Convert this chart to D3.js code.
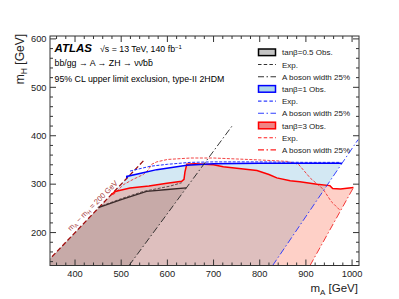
<!DOCTYPE html>
<html>
<head>
<meta charset="utf-8">
<script src="https://d3js.org/d3.v7.min.js"></script>
<style>
  body { margin: 0; background: #fff; }
  svg text { font-family: "Liberation Sans", Arial, sans-serif; }
</style>
</head>
<body>
<div id="graph"></div>
<script>
// ATLAS A -> ZH exclusion plot, type-II 2HDM

// tan(beta)=0.5
const obs05 = [[452, 252], [500, 268], [555, 285], [600, 289], [641, 292.5]];
const exp05 = [[449, 252], [500, 270], [548, 285], [606, 296], [631, 303]];
const width05 = [[517, 132], [740, 420]];

// tan(beta)=1
const obs1 = [[512, 312], [512, 316], [545, 323], [577, 330], [642, 339], [700, 342], [800, 343], [900, 343], [978, 343]];
const exp1 = [[519, 327], [563, 337], [600, 341], [650, 345], [700, 346], [800, 346], [900, 345], [975, 345]];
const width1 = [[828, 132], [1013, 392]];

// tan(beta)=3
const obs3 = [[478, 278], [487, 285], [519, 292], [560, 296], [599, 302], [631, 306], [636, 310], [638, 325],
  [642, 341], [660, 342], [700, 340], [721, 336], [760, 332], [794, 328], [820, 320], [837, 313],
  [866, 307], [887, 305], [924, 300], [952, 297], [958, 291], [975, 290], [1003, 293]];
const exp3 = [[483, 278], [487, 282], [505, 299], [526, 310], [548, 320], [559, 330], [566, 341], [577, 346],
  [600, 351], [650, 354], [700, 354], [750, 352], [800, 350], [860, 347], [884, 341], [910, 312],
  [937, 290], [955, 264], [974, 246]];
const width3 = [[909, 132], [1003, 293]];

// mA - mH = 200 GeV
const diagonal = [[350, 150], [550, 350]];
const cornerLow = [[346, 132], [346, 146]];

const xTicks = [400, 500, 600, 700, 800, 900, 1000];
const yTicks = [200, 300, 400, 500, 600];

const legendLabels = ["tan\u03b2=0.5 Obs.", "Exp.", "A boson width 25%",
  "tan\u03b2=1 Obs.", "Exp.", "A boson width 25%",
  "tan\u03b2=3 Obs.", "Exp.", "A boson width 25%"];

const W = 399, H = 299;
const fLeft = 50, fRight = 359, fTop = 36, fBottom = 265.5;

const x = d3.scaleLinear().domain([345.8, 1015]).range([fLeft, fRight]);
const y = d3.scaleLinear().domain([132, 606]).range([fBottom, fTop]);

const svg = d3.select("#graph").append("svg")
  .attr("width", W).attr("height", H);

svg.append("defs").append("clipPath").attr("id", "frame")
  .append("rect").attr("x", fLeft).attr("y", fTop)
  .attr("width", fRight - fLeft).attr("height", fBottom - fTop);

const line = d3.line().x(d => x(d[0])).y(d => y(d[1]));

const plot = svg.append("g").attr("clip-path", "url(#frame)");

// filled regions: corner + observed boundary + foot of the width line
function region(obs, widthLine) {
  return cornerLow.concat(obs, [widthLine[0]]);
}

plot.append("path")
  .attr("d", line(region(obs1, width1)) + "Z")
  .attr("fill", "rgb(150,200,226)").attr("fill-opacity", 0.42);
plot.append("path")
  .attr("d", line(region(obs3, width3)) + "Z")
  .attr("fill", "rgb(250,85,55)").attr("fill-opacity", 0.28);
plot.append("path")
  .attr("d", line(region(obs05, width05)) + "Z")
  .attr("fill", "rgb(112,92,82)").attr("fill-opacity", 0.2);

const dashDot = "7,2.5,1.5,2.5";

function drawLine(data, color, w, da) {
  plot.append("path").attr("d", line(data))
    .attr("fill", "none").attr("stroke", color)
    .attr("stroke-width", w)
    .attr("stroke-dasharray", da || null);
}

drawLine(diagonal, "#a01010", 1.3, "5,2.5");

drawLine(exp3, "#f03030", 0.9, "3,1.5");
drawLine(width3, "#f02020", 0.9, dashDot);
drawLine(obs3, "#ff0000", 1.5);

drawLine(exp1, "#2030ff", 1, "3,1.5");
drawLine(width1, "#2030ff", 0.9, dashDot);
drawLine(obs1, "#0000ff", 1.5);

drawLine(exp05, "#504040", 0.9, "3,1.5");
drawLine(width05, "#222", 0.9, dashDot);
drawLine(obs05, "#3a2a2a", 1.3);

// diagonal label, sitting just above the line
const lp = [x(447), y(247)];
svg.append("text")
  .attr("transform", "translate(" + lp[0] + "," + lp[1] + ") rotate(-45)")
  .attr("text-anchor", "middle")
  .attr("dy", -3.2)
  .attr("font-size", 7.6)
  .attr("fill", "#a84040")
  .html('m<tspan font-size="5.3" dy="1.5">A</tspan><tspan dy="-1.5"> \u2212 m</tspan><tspan font-size="5.3" dy="1.5">H</tspan><tspan dy="-1.5"> = 200 GeV</tspan>');

// frame and ticks (inside, all four sides)
const axes = svg.append("g").attr("stroke", "#333").attr("stroke-width", 1);
axes.append("rect").attr("x", fLeft).attr("y", fTop)
  .attr("width", fRight - fLeft).attr("height", fBottom - fTop).attr("fill", "none");

const xMinor = d3.range(360, 1015, 20);
const yMinor = d3.range(140, 606, 20);
xMinor.forEach(v => {
  const len = v % 100 === 0 ? 6 : 3;
  axes.append("line").attr("x1", x(v)).attr("x2", x(v)).attr("y1", fBottom).attr("y2", fBottom - len);
  axes.append("line").attr("x1", x(v)).attr("x2", x(v)).attr("y1", fTop).attr("y2", fTop + len);
});
yMinor.forEach(v => {
  const len = v % 100 === 0 ? 6 : 3;
  axes.append("line").attr("y1", y(v)).attr("y2", y(v)).attr("x1", fLeft).attr("x2", fLeft + len);
  axes.append("line").attr("y1", y(v)).attr("y2", y(v)).attr("x1", fRight).attr("x2", fRight - len);
});

svg.append("g").selectAll("text").data(xTicks).enter().append("text")
  .attr("x", d => x(d)).attr("y", 277)
  .attr("text-anchor", "middle").attr("font-size", 9.3).attr("fill", "#222")
  .text(d => d);
svg.append("g").selectAll("text").data(yTicks).enter().append("text")
  .attr("x", 46.5).attr("y", d => y(d) + 3.3)
  .attr("text-anchor", "end").attr("font-size", 9.3).attr("fill", "#222")
  .text(d => d);

// axis titles
svg.append("text").attr("x", 358).attr("y", 292).attr("text-anchor", "end")
  .attr("font-size", 11.5).attr("fill", "#222")
  .html('m<tspan font-size="8" dy="2.5">A</tspan><tspan dy="-2.5"> [GeV]</tspan>');
svg.append("text").attr("transform", "translate(24,34) rotate(-90)").attr("text-anchor", "end")
  .attr("font-size", 12).attr("fill", "#222")
  .html('m<tspan font-size="8.5" dy="2.5">H</tspan><tspan dy="-2.5"> [GeV]</tspan>');

// header
svg.append("text").attr("x", 54.5).attr("y", 52.4)
  .attr("font-size", 11.5).attr("font-weight", "bold").attr("font-style", "italic").text("ATLAS");
svg.append("text").attr("x", 100).attr("y", 52.4).attr("font-size", 8.8)
  .html('\u221As = 13 TeV, 140 fb<tspan font-size="6" dy="-3.5">\u22121</tspan>');
svg.append("text").attr("x", 54.5).attr("y", 66).attr("font-size", 8.8)
  .text("bb/gg \u2192 A \u2192 ZH \u2192 \u03bd\u03bd\u0304bb\u0304");
svg.append("text").attr("x", 54.5).attr("y", 82).attr("font-size", 8.8)
  .text("95% CL upper limit exclusion, type-II 2HDM");

// legend
const legColors = ["#000", "#0000ff", "#ff0000"];
const legFills = ["#c4c4c4", "#aed7e8", "#ef8585"];
const legStroke = ["#333", "#3040ff", "#ff2020"];
const leg = svg.append("g");
legendLabels.forEach((lab, i) => {
  const yy = 52.3 + i * 12.2;
  const grp = Math.floor(i / 3), kind = i % 3;
  if (kind === 0) {
    leg.append("rect").attr("x", 258.5).attr("y", yy - 3.3).attr("width", 17).attr("height", 6.6)
      .attr("fill", legFills[grp]).attr("stroke", legColors[grp]).attr("stroke-width", 1.5);
  } else {
    leg.append("line").attr("x1", 258).attr("x2", 276).attr("y1", yy).attr("y2", yy)
      .attr("stroke", legStroke[grp]).attr("stroke-width", 1.1)
      .attr("stroke-dasharray", kind === 1 ? "3.5,2.2" : "6,2.5,1.5,2.5");
  }
  leg.append("text").attr("x", 282).attr("y", yy + 3).attr("font-size", 8).attr("fill", "#222").text(lab);
});
</script>
</body>
</html>
